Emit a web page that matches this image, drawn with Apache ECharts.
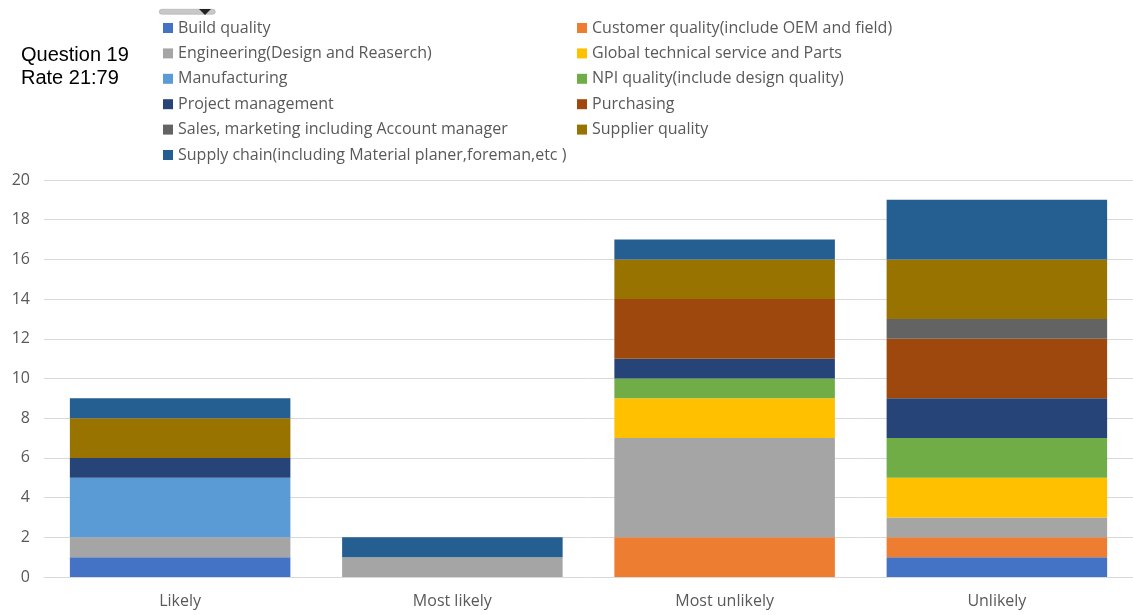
<!DOCTYPE html>
<html>
<head>
<meta charset="utf-8">
<script src="https://cdn.jsdelivr.net/npm/echarts@6/dist/echarts.min.js"></script>
<style>
  html, body { margin: 0; padding: 0; background: #ffffff; }
  #chart { width: 1133px; height: 615px; }
</style>
</head>
<body>
<div id="chart"></div>
<script>
// Answer categories along the x axis
const categories = ['Likely', 'Most likely', 'Most unlikely', 'Unlikely'];

// Respondent counts per department, one value per category
const buildQuality        = [1, 0, 0, 1];
const customerQuality     = [0, 0, 2, 1];
const engineering         = [1, 1, 5, 1];
const globalTechnical     = [0, 0, 2, 2];
const manufacturing       = [3, 0, 0, 0];
const npiQuality          = [0, 0, 1, 2];
const projectManagement   = [1, 0, 1, 2];
const purchasing          = [0, 0, 3, 3];
const salesMarketing      = [0, 0, 0, 1];
const supplierQuality     = [2, 0, 2, 3];
const supplyChain         = [1, 1, 1, 3];

const seriesNames = [
  'Build quality',
  'Customer quality(include OEM and field)',
  'Engineering(Design and Reaserch)',
  'Global technical service and Parts',
  'Manufacturing',
  'NPI quality(include design quality)',
  'Project management',
  'Purchasing',
  'Sales, marketing including Account manager',
  'Supplier quality',
  'Supply chain(including Material planer,foreman,etc )'
];
const seriesValues = [
  buildQuality, customerQuality, engineering, globalTechnical, manufacturing,
  npiQuality, projectManagement, purchasing, salesMarketing, supplierQuality, supplyChain
];
const seriesColors = [
  '#4472C4', '#ED7D31', '#A5A5A5', '#FFC000', '#5B9BD5',
  '#70AD47', '#264478', '#9E480E', '#636363', '#997300', '#255E91'
];

const yTicks = { min: 0, max: 20, interval: 2 };

const textFont = 'Open Sans';
const textColor = '#595959';

const chart = echarts.init(document.getElementById('chart'), null, { renderer: 'canvas' });

const legendCommon = {
  orient: 'vertical',
  top: 13,
  itemWidth: 10,
  itemHeight: 10,
  itemGap: 5.4,
  icon: 'rect',
  textStyle: { fontFamily: textFont, fontSize: 16, color: textColor, lineHeight: 20, padding: [0, 0, 0, 0] },
  selectedMode: false
};

chart.setOption({
  animation: false,
  color: seriesColors,
  title: {
    text: 'Question 19\nRate 21:79',
    left: 16,
    top: 39,
    textStyle: {
      fontFamily: 'Liberation Sans',
      fontSize: 20,
      fontWeight: 'normal',
      color: '#000000',
      lineHeight: 23
    }
  },
  legend: [
    Object.assign({}, legendCommon, {
      left: 158,
      data: seriesNames.filter((_, i) => i % 2 === 0)
    }),
    Object.assign({}, legendCommon, {
      left: 572,
      data: seriesNames.filter((_, i) => i % 2 === 1)
    })
  ],
  grid: { left: 44, right: 0, top: 180, bottom: 38 },
  xAxis: {
    type: 'category',
    data: categories,
    axisLine: { show: true, lineStyle: { color: '#d9d9d9', width: 1 } },
    axisTick: { show: false },
    axisLabel: { fontFamily: textFont, fontSize: 16, color: textColor, margin: 16 }
  },
  yAxis: {
    type: 'value',
    min: yTicks.min,
    max: yTicks.max,
    interval: yTicks.interval,
    axisLine: { show: false },
    axisTick: { show: false },
    axisLabel: { fontFamily: textFont, fontSize: 16, color: textColor, margin: 14 },
    splitLine: { lineStyle: { color: '#d9d9d9', width: 1 } }
  },
  series: seriesNames.map((name, i) => ({
    name: name,
    type: 'bar',
    stack: 'total',
    barCategoryGap: '19%',
    data: seriesValues[i],
    itemStyle: { color: seriesColors[i] }
  })),
  graphic: [
    {
      type: 'rect',
      left: 159,
      top: 9,
      shape: { width: 56, height: 5, r: 2.5 },
      style: { fill: '#c8c8c8', stroke: '#a0a0a0', lineWidth: 0.5 }
    },
    {
      type: 'polygon',
      shape: { points: [[199, 9], [211, 9], [205, 15]] },
      style: { fill: '#222222' }
    }
  ]
});
</script>
</body>
</html>
